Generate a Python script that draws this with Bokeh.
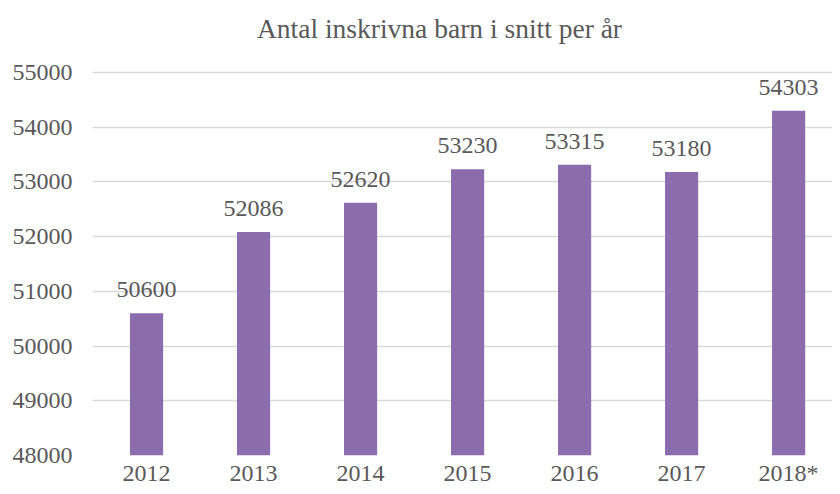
from bokeh.plotting import figure
from bokeh.models import Range1d, FixedTicker, ColumnDataSource, LabelSet, Label
from bokeh.embed import file_html
from bokeh.resources import INLINE

categories = ["2012", "2013", "2014", "2015", "2016", "2017", "2018*"]
values = [50600, 52086, 52620, 53230, 53315, 53180, 54303]
y_ticks = [48000, 49000, 50000, 51000, 52000, 53000, 54000, 55000]
title_text = "Antal inskrivna barn i snitt per år"

FONT = "Liberation Serif"
TXT = "#595959"
BAR = "#8B6DAE"

xs = list(range(len(categories)))
src = ColumnDataSource(dict(x=xs, top=values, label=[str(v) for v in values]))

# frame covers the full upper area (title space included); gridlines only at the ticks
p = figure(frame_width=740, frame_height=455, output_backend="svg", toolbar_location=None,
           x_range=Range1d(-0.505, 6.41), y_range=Range1d(48000, 56316),
           min_border_left=92, min_border_right=0, min_border_top=0, min_border_bottom=31)

title = Label(x=347, y=427, x_units="screen", y_units="screen", text=title_text,
              text_align="center", text_baseline="alphabetic", text_font=FONT,
              text_font_size="27.5px", text_color=TXT)
p.add_layout(title)

p.vbar(x="x", top="top", bottom=48000, width=0.31, source=src, fill_color=BAR, line_color=None)

labels = LabelSet(x="x", y="top", text="label", source=src, text_align="center",
                  text_baseline="bottom", y_offset=16, text_font=FONT,
                  text_font_size="24px", text_color=TXT)
p.add_layout(labels)

p.outline_line_color = None
p.background_fill_color = "white"
p.border_fill_color = "white"
p.xgrid.grid_line_color = None
p.ygrid.grid_line_color = "#D9D9D9"
p.ygrid.grid_line_width = 1.3

p.yaxis.ticker = FixedTicker(ticks=y_ticks)
p.xaxis.ticker = FixedTicker(ticks=xs)
p.xaxis.major_label_overrides = {i: c for i, c in enumerate(categories)}
for ax in (p.xaxis, p.yaxis):
    ax.axis_line_color = None
    ax.major_tick_line_color = None
    ax.minor_tick_line_color = None
    ax.major_tick_out = 0
    ax.major_tick_in = 0
    ax.minor_tick_out = 0
    ax.minor_tick_in = 0
    ax.major_label_text_font = FONT
    ax.major_label_text_font_size = "24px"
    ax.major_label_text_color = TXT
p.yaxis.major_label_standoff = 20
p.xaxis.major_label_standoff = 4

open("out.html", "w").write(file_html(p, INLINE))
